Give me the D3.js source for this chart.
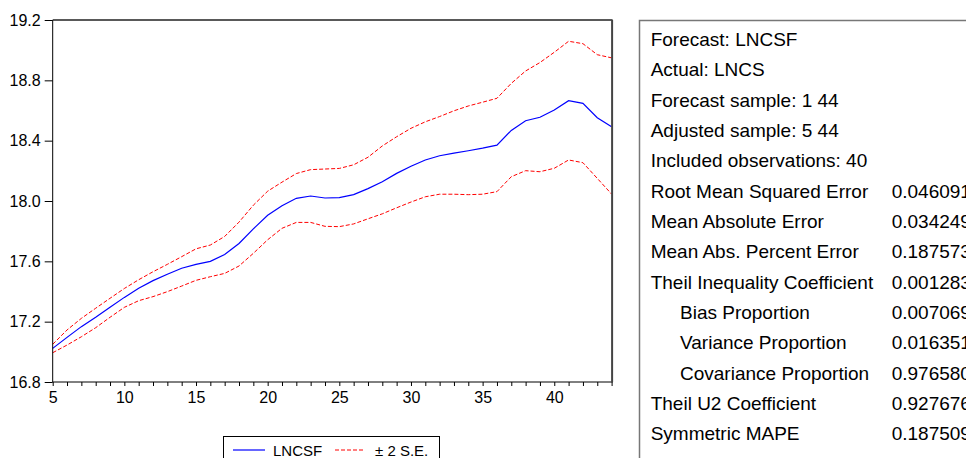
<!DOCTYPE html>
<html>
<head>
<meta charset="utf-8">
<script src="https://cdn.jsdelivr.net/npm/d3@7"></script>
<style>
  body { margin: 0; background: #fff; }
  svg { display: block; font-family: "Liberation Sans", Arial, sans-serif; }
</style>
</head>
<body>
<div id="chart"></div>
<script>
// observations 5..44
const obs = [5, 6, 7, 8, 9, 10, 11, 12, 13, 14, 15, 16, 17, 18, 19, 20, 21, 22, 23, 24,
  25, 26, 27, 28, 29, 30, 31, 32, 33, 34, 35, 36, 37, 38, 39, 40, 41, 42, 43, 44]

// forecast LNCSF
const lncsf = [17.023, 17.096, 17.167, 17.229, 17.295, 17.361, 17.421, 17.472, 17.514, 17.554,
  17.580, 17.600, 17.645, 17.718, 17.815, 17.905, 17.968, 18.018, 18.033, 18.020,
  18.022, 18.042, 18.082, 18.128, 18.183, 18.230, 18.272, 18.300, 18.317, 18.333,
  18.350, 18.370, 18.468, 18.532, 18.555, 18.603, 18.665, 18.647, 18.552, 18.492]

// +2 S.E.
const upper = [17.050, 17.145, 17.222, 17.289, 17.355, 17.420, 17.478, 17.531, 17.580, 17.631,
  17.683, 17.708, 17.765, 17.860, 17.972, 18.065, 18.125, 18.182, 18.208, 18.212,
  18.216, 18.240, 18.290, 18.365, 18.426, 18.482, 18.525, 18.560, 18.598, 18.630,
  18.655, 18.681, 18.780, 18.862, 18.918, 18.986, 19.059, 19.043, 18.970, 18.949]

// -2 S.E.
const lower = [16.994, 17.045, 17.100, 17.160, 17.229, 17.295, 17.339, 17.366, 17.399, 17.436,
  17.474, 17.498, 17.520, 17.569, 17.653, 17.743, 17.819, 17.858, 17.858, 17.832,
  17.830, 17.848, 17.882, 17.915, 17.955, 17.993, 18.028, 18.045, 18.045, 18.042,
  18.045, 18.062, 18.161, 18.201, 18.194, 18.217, 18.272, 18.254, 18.150, 18.046]

const yTicks = [16.8, 17.2, 17.6, 18.0, 18.4, 18.8, 19.2]
const xLabels = [5, 10, 15, 20, 25, 30, 35, 40]

// forecast statistics table
const statLabels = ['Forecast: LNCSF', 'Actual: LNCS', 'Forecast sample: 1 44', 'Adjusted sample: 5 44',
  'Included observations: 40', 'Root Mean Squared Error', 'Mean Absolute Error',
  'Mean Abs. Percent Error', 'Theil Inequality Coefficient', 'Bias Proportion',
  'Variance Proportion', 'Covariance Proportion', 'Theil U2 Coefficient', 'Symmetric MAPE']
const statValues = ['', '', '', '', '', '0.046091', '0.034249', '0.187573', '0.001283',
  '0.007069', '0.016351', '0.976580', '0.927676', '0.187509']
const statIndent = [0, 0, 0, 0, 0, 0, 0, 0, 0, 1, 1, 1, 0, 0]

const width = 966,
  height = 458,
  plotLeft = 52.7,
  plotRight = 611.6,
  plotTop = 20,
  plotBottom = 382

let svg = d3.select('#chart')
  .append('svg')
  .attr('width', width)
  .attr('height', height)

const xScale = d3.scaleLinear()
  .domain([5, 44])
  .range([plotLeft, plotRight])

const yScale = d3.scaleLinear()
  .domain([16.8, 19.2])
  .range([plotBottom, plotTop])

// axes
const xAxis = d3.axisBottom(xScale)
  .tickValues(obs)
  .tickSize(4)
  .tickSizeOuter(0)
  .tickPadding(6)
  .tickFormat(d => xLabels.includes(d) ? d : '')

const yAxis = d3.axisLeft(yScale)
  .tickValues(yTicks)
  .tickSize(8)
  .tickSizeOuter(0)
  .tickPadding(4)
  .tickFormat(d3.format('.1f'))

let gx = svg.append('g')
  .attr('transform', `translate(0,${plotBottom})`)
  .call(xAxis)
gx.select('.domain').remove()
gx.selectAll('text').attr('font-size', 16).attr('fill', '#000').attr('font-family', 'Liberation Sans, Arial, sans-serif')
gx.selectAll('line').attr('stroke', '#000')

let gy = svg.append('g')
  .attr('transform', `translate(${plotLeft},0)`)
  .call(yAxis)
gy.select('.domain').remove()
gy.selectAll('text').attr('font-size', 16).attr('fill', '#000').attr('font-family', 'Liberation Sans, Arial, sans-serif')
gy.selectAll('line').attr('stroke', '#000')

// lines
const line = (vals) => d3.line()
  .x((d, i) => xScale(obs[i]))
  .y(d => yScale(d))(vals)

svg.append('path')
  .attr('d', line(upper))
  .attr('fill', 'none')
  .attr('stroke', '#ff0000')
  .attr('stroke-width', 1)
  .attr('stroke-dasharray', '4,2')

svg.append('path')
  .attr('d', line(lower))
  .attr('fill', 'none')
  .attr('stroke', '#ff0000')
  .attr('stroke-width', 1)
  .attr('stroke-dasharray', '4,2')

svg.append('path')
  .attr('d', line(lncsf))
  .attr('fill', 'none')
  .attr('stroke', '#0000ff')
  .attr('stroke-width', 1.2)

// plot frame
svg.append('line').attr('x1', plotLeft).attr('x2', plotLeft).attr('y1', plotTop).attr('y2', plotBottom)
  .attr('stroke', '#000').attr('stroke-width', 1)
svg.append('line').attr('x1', plotLeft).attr('x2', plotRight + 1).attr('y1', plotBottom).attr('y2', plotBottom)
  .attr('stroke', '#000').attr('stroke-width', 1)
svg.append('line').attr('x1', plotLeft).attr('x2', plotRight + 1).attr('y1', plotTop).attr('y2', plotTop)
  .attr('stroke', '#222').attr('stroke-width', 1.5)
svg.append('line').attr('x1', plotRight + 0.5).attr('x2', plotRight + 0.5).attr('y1', plotTop).attr('y2', plotBottom)
  .attr('stroke', '#444').attr('stroke-width', 2)

// legend
let legend = svg.append('g')
legend.append('rect')
  .attr('x', 223.5).attr('y', 436.5)
  .attr('width', 216).attr('height', 40)
  .attr('fill', '#fff').attr('stroke', '#000')
legend.append('line')
  .attr('x1', 233).attr('x2', 265).attr('y1', 450).attr('y2', 450)
  .attr('stroke', '#0000ff').attr('stroke-width', 1.2)
legend.append('text')
  .attr('x', 273).attr('y', 455.5)
  .attr('font-size', 15).text('LNCSF')
legend.append('line')
  .attr('x1', 335).attr('x2', 363).attr('y1', 450).attr('y2', 450)
  .attr('stroke', '#ff0000').attr('stroke-width', 1).attr('stroke-dasharray', '4,2')
legend.append('text')
  .attr('x', 375).attr('y', 455.5)
  .attr('font-size', 15).text('\u00b1 2 S.E.')

// statistics table (its right part runs past the picture edge, as in the original)
let table = svg.append('g')
table.append('rect')
  .attr('x', 639.5).attr('y', 20.5)
  .attr('width', 400).attr('height', 460)
  .attr('fill', '#fff').attr('stroke', '#777').attr('stroke-width', 1.5)

table.selectAll('text.lab')
  .data(statLabels)
  .enter()
  .append('text')
  .attr('class', 'lab')
  .attr('x', (d, i) => statIndent[i] ? 680 : 650.7)
  .attr('y', (d, i) => 46 + i * 30.33)
  .attr('font-size', 19)
  .attr('fill', '#000')
  .text(d => d)

table.selectAll('text.val')
  .data(statValues)
  .enter()
  .append('text')
  .attr('class', 'val')
  .attr('x', 891.7)
  .attr('y', (d, i) => 46 + i * 30.33)
  .attr('font-size', 19)
  .attr('fill', '#000')
  .text(d => d)
</script>
</body>
</html>
